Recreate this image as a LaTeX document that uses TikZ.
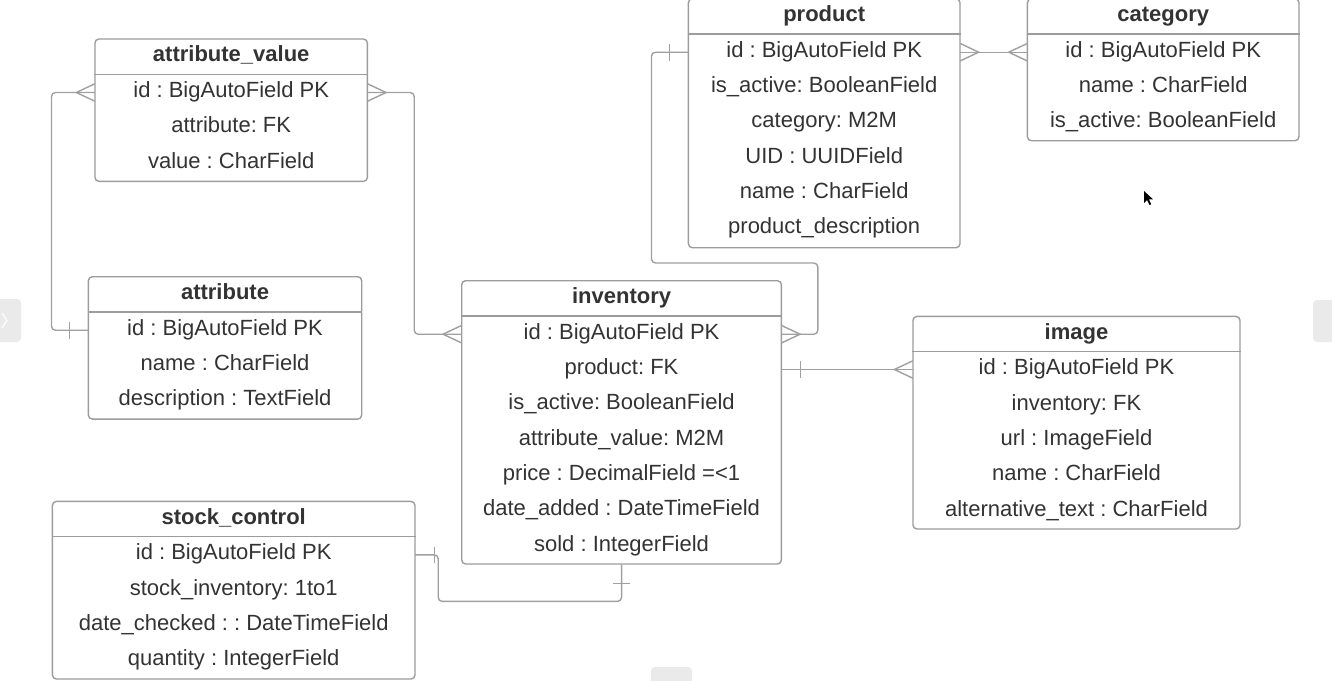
\documentclass[tikz,border=0pt]{standalone}
\usepackage{fontspec}
\setmainfont{Liberation Sans}
\usetikzlibrary{calc}
\frenchspacing
\definecolor{boxgray}{HTML}{9C9C9C}
\definecolor{linegray}{HTML}{A0A0A0}
\definecolor{txt}{HTML}{333333}
\definecolor{tabgray}{HTML}{EAEAEA}
\tikzset{
  entity/.style={draw=boxgray, line width=1.4pt, rounded corners=4pt, inner sep=0pt, anchor=north west},
  hdr/.style={font=\fontsize{22}{26}\selectfont\bfseries, text=txt, text height=14pt, text depth=4pt, inner sep=0pt},
  fld/.style={font=\fontsize{22}{26}\selectfont, text=txt, text height=14pt, text depth=4pt, inner sep=0pt},
  sepline/.style={draw=boxgray, line width=1.4pt},
  conn/.style={draw=linegray, line width=1.4pt, rounded corners=4pt},
  crow/.pic={\draw[draw=linegray, line width=1.4pt] (0,-8.7) -- (18.5,0) -- (0,8.7);},
  onebar/.pic={\draw[draw=linegray, line width=1.4pt] (19,-8.3) -- (19,8.3);},
}
\newcommand\erbox[7]{%
  \node[entity, minimum width=#4pt, minimum height=#5pt] (#1) at (#2,#3) {};
  \node[hdr] (#1-h) at ($(#1.north)+(0,18.5)$) {#6};
  \draw[sepline] ($(#1.north west)+(0,36)$) -- ($(#1.north east)+(0,36)$);
  \foreach \t [count=\i] in {#7} {
    \node[fld, minimum width=#4pt] (#1-\i) at ($(#1.north)+(0,54.2+35.3*\i-35.3)$) {\t};
  }%
}
\begin{document}
\begin{tikzpicture}[x=1pt,y=-1pt]
\clip (0,0) rectangle (1332,680);
\fill[white] (0,0) rectangle (1332,680);
% screen UI remnants
\fill[tabgray, rounded corners=4pt] (-6,299) rectangle (21,342);
\draw[white, line width=1.2pt] (2,313) -- (7,320.5) -- (2,328);
\fill[tabgray, rounded corners=4pt] (1313,300) rectangle (1340,342);
\fill[tabgray, rounded corners=4pt] (651,667) rectangle (692,690);
\fill[black] (1144,191) -- (1144,203) -- (1147,200) -- (1149.5,205) -- (1151.2,204.2) -- (1148.8,199.3) -- (1153,199.3) -- cycle;

% entities
\erbox{av}{94.3}{38.3}{272.4}{142.4}{attribute\_value}{id : BigAutoField PK,attribute: FK,value : CharField}
\erbox{attr}{87.7}{276.0}{273.3}{142.4}{attribute}{id : BigAutoField PK,name : CharField,description : TextField}
\erbox{stock}{51.7}{500.7}{362.6}{177.6}{stock\_control}{id : BigAutoField PK,stock\_inventory: 1to1,date\_checked : : DateTimeField,quantity : IntegerField}
\erbox{inv}{461}{280}{319.7}{283.3}{inventory}{id : BigAutoField PK,product: FK,is\_active: BooleanField,attribute\_value: M2M,price : DecimalField =<1,date\_added : DateTimeField,sold : IntegerField}
\erbox{prod}{687.7}{-2}{271.6}{249}{product}{id : BigAutoField PK,is\_active: BooleanField,category: M2M,UID : UUIDField,name : CharField,product\_description}
\erbox{cat}{1026.7}{-2}{271.6}{142}{category}{id : BigAutoField PK,name : CharField,is\_active: BooleanField}
\erbox{img}{912.3}{315.7}{327}{212.6}{image}{id : BigAutoField PK,inventory: FK,url : ImageField,name : CharField,alternative\_text : CharField}

% connectors
\draw[conn] (av-1.west) -- ++(-43.3,0) |- (attr-1.west);
\draw[conn] (av-1.east) -- ++(46.6,0) |- (inv-1.west);
\draw[conn] (prod-1.west) -- ++(-36.7,0) -- ++(0,210.8) -| ($(inv-1.east)+(36.2,0)$) -- (inv-1.east);
\draw[conn] (prod-1.east) -- (cat-1.west);
\draw[conn] (inv-2.east) -- (inv-2.east -| img-1.west);
\draw[conn] (stock-1.east) -- ++(23,0) |- ($(inv.south)+(0,36.7)$) -- (inv.south);

% ends
\pic[rotate=180] at (av-1.west) {crow};
\pic at (av-1.east) {crow};
\pic[rotate=180] at (attr-1.west) {onebar};
\pic[rotate=180] at (inv-1.west) {crow};
\pic at (inv-1.east) {crow};
\pic[rotate=180] at (prod-1.west) {onebar};
\pic at (prod-1.east) {crow};
\pic[rotate=180] at (cat-1.west) {crow};
\pic at (inv-2.east) {onebar};
\pic[rotate=180] at (inv-2.east -| img-1.west) {crow};
\pic at (stock-1.east) {onebar};
\pic[rotate=-90] at (inv.south) {onebar};
\end{tikzpicture}
\end{document}
